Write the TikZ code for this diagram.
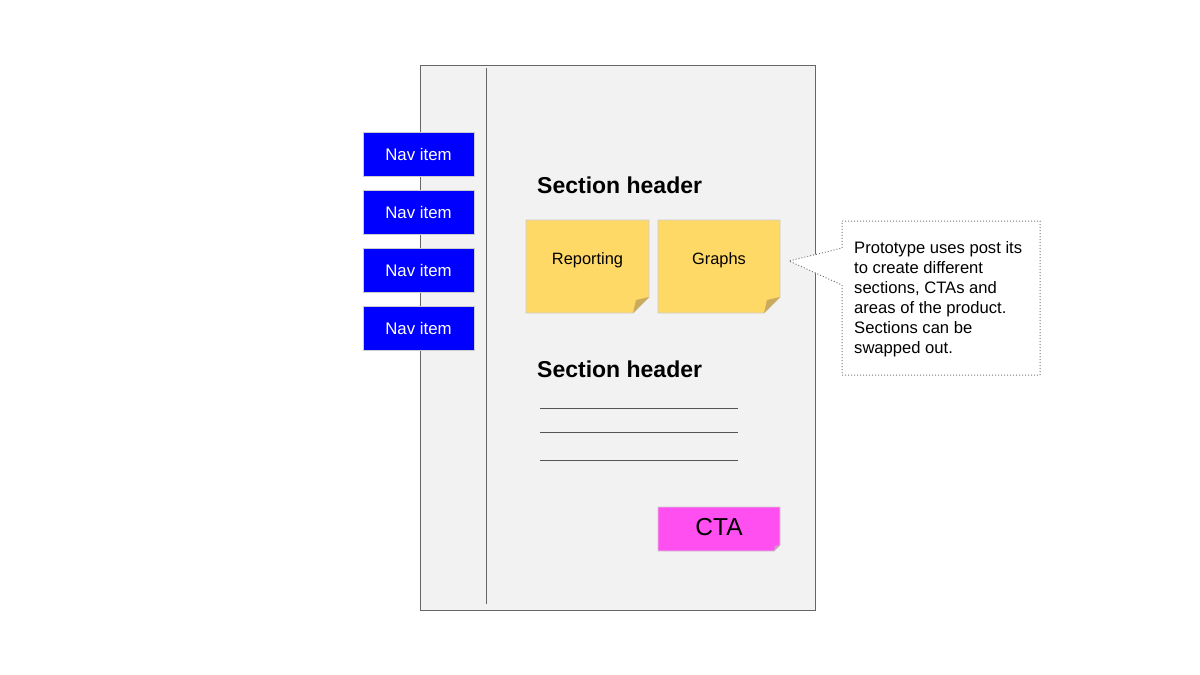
\documentclass[tikz,border=0pt]{standalone}
\usepackage{fontspec}
\setmainfont{Liberation Sans}
\definecolor{pagebg}{HTML}{F2F2F2}
\definecolor{pageline}{HTML}{666666}
\definecolor{navblue}{HTML}{0000FF}
\definecolor{boxedge}{HTML}{CCCCCC}
\definecolor{stickyyellow}{HTML}{FFD966}
\definecolor{foldyellow}{HTML}{C9AB5B}
\definecolor{ctapink}{HTML}{FF4FF0}
\definecolor{foldpink}{HTML}{C9A0C4}
\definecolor{textline}{HTML}{555555}
\definecolor{dotline}{HTML}{777777}
\begin{document}
\begin{tikzpicture}[x=1pt,y=-1pt,
  navbox/.style={fill=navblue,draw=boxedge,line width=0.8pt,minimum width=111pt,minimum height=44pt,inner sep=0pt,text=white,font=\fontsize{16.8}{20}\selectfont},
  header/.style={anchor=west,inner sep=0pt,font=\fontsize{23}{27}\selectfont\bfseries},
  stickytext/.style={inner sep=0pt,font=\fontsize{16.4}{19}\selectfont},
  rule/.style={draw=textline,line width=0.7pt},
  calloutstyle/.style={draw=dotline,dash pattern=on 1pt off 2pt,line width=1pt,fill=white}]
\useasboundingbox (0,0) rectangle (1200,675);
% page
\node[draw=pageline,fill=pagebg,line width=0.7pt,minimum width=395pt,minimum height=545pt,inner sep=0pt,anchor=north west] (page) at (420,65) {};
\coordinate (divtop) at (486,68);
\coordinate (divbot) at (486,604);
\draw[draw=pageline,line width=0.8pt] (divtop) -- (divbot);
% nav items
\node[navbox] (nav1) at (418.5,154) {Nav item};
\node[navbox] (nav2) at (418.5,212) {Nav item};
\node[navbox] (nav3) at (418.5,270) {Nav item};
\node[navbox] (nav4) at (418.5,328) {Nav item};
% headers
\node[header] (h1) at (537,185) {Section header};
\node[header] (h2) at (537,369) {Section header};
% sticky notes
\filldraw[fill=stickyyellow,draw=boxedge,line width=0.8pt] (526,220) -- (649,220) -- (649,297) -- (633,313) -- (526,313) -- cycle;
\fill[foldyellow] (649,297) -- (633,313) -- (636,300) -- cycle;
\node[stickytext] (reporting) at (587.5,260.5) {Reporting};
\filldraw[fill=stickyyellow,draw=boxedge,line width=0.8pt] (658,220) -- (780,220) -- (780,297) -- (764,313) -- (658,313) -- cycle;
\fill[foldyellow] (780,297) -- (764,313) -- (767,300) -- cycle;
\node[stickytext] (graphs) at (719,260.5) {Graphs};
% lines
\coordinate (l1a) at (540,408); \coordinate (l1b) at (738,408);
\coordinate (l2a) at (540,432); \coordinate (l2b) at (738,432);
\coordinate (l3a) at (540,460); \coordinate (l3b) at (738,460);
\draw[rule] (l1a) -- (l1b);
\draw[rule] (l2a) -- (l2b);
\draw[rule] (l3a) -- (l3b);
% CTA
\filldraw[fill=ctapink,draw=boxedge,line width=0.8pt] (658,507) -- (780,507) -- (780,545) -- (774,551) -- (658,551) -- cycle;
\fill[foldpink] (780,545) -- (774,551) -- (775,546) -- cycle;
\node[inner sep=0pt,font=\fontsize{24.5}{28}\selectfont] (cta) at (719,527) {CTA};
% callout
\path[calloutstyle] (842,221) -- (1040,221) -- (1040,375) -- (842,375) -- (842,285) -- (789,261) -- (842,248) -- cycle;
\node[anchor=north west,inner sep=0pt,align=left,font=\fontsize{16.6}{20}\selectfont] (note) at (854,241) {Prototype uses post its\\to create different\\sections, CTAs and\\areas of the product.\\Sections can be\\swapped out.};
\end{tikzpicture}
\end{document}
